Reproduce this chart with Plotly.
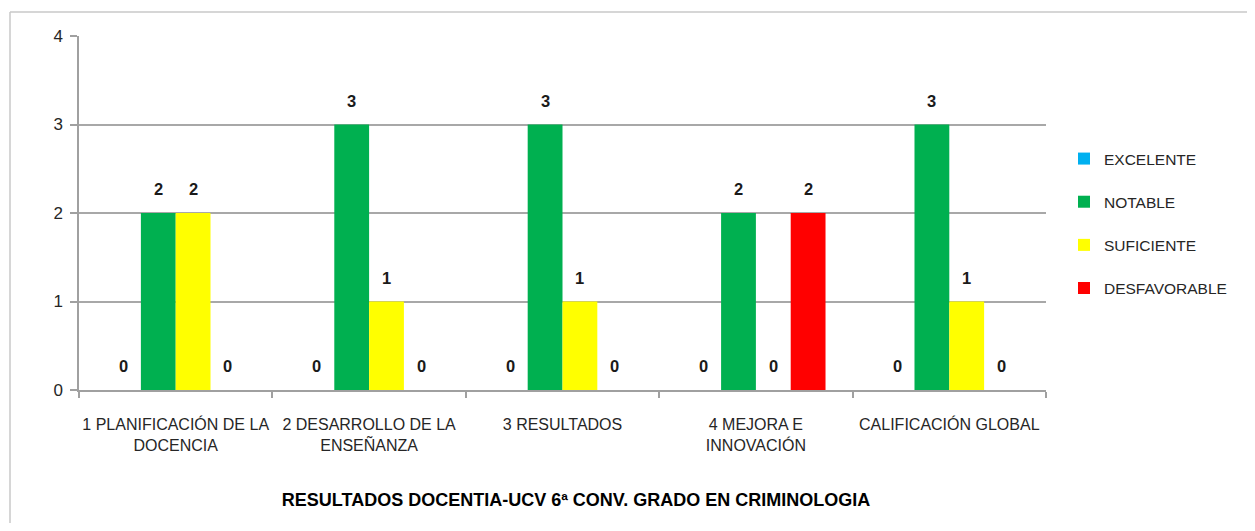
import plotly.graph_objects as go

categories = ["1 PLANIFICACIÓN DE LA<br>DOCENCIA", "2 DESARROLLO DE LA<br>ENSEÑANZA",
              "3 RESULTADOS", "4 MEJORA E<br>INNOVACIÓN", "CALIFICACIÓN GLOBAL"]
series_names = ["EXCELENTE", "NOTABLE", "SUFICIENTE", "DESFAVORABLE"]
excelente = [0, 0, 0, 0, 0]
notable = [2, 3, 3, 2, 3]
suficiente = [2, 1, 1, 0, 1]
desfavorable = [0, 0, 0, 2, 0]
y_ticks = [0, 1, 2, 3, 4]
title_text = "RESULTADOS DOCENTIA-UCV 6ª CONV. GRADO EN CRIMINOLOGIA"

colors = ["#00B0F0", "#00B050", "#FFFF00", "#FF0000"]
values = [excelente, notable, suficiente, desfavorable]

OFF = 8  # default page body margin
W, H = 1255 - 2 * OFF, 531 - 2 * OFF
# plot area in page pixels: x 79..1046, y 36..390
L = 79 - OFF
T = 36 - OFF
R = W - (1046 - OFF)
B = H - (390 - OFF)
plot_w = W - L - R
plot_h = H - T - B
bargap = 0.28
cat_w = plot_w / len(categories)
bar_w = cat_w * (1 - bargap) / len(series_names)

FONT = "Liberation Sans, Arial, sans-serif"
TXT = "#262626"


def px_x(page_px):
    return (page_px - OFF - L) / plot_w


def px_y(page_py):
    return (H - B - (page_py - OFF)) / plot_h


fig = go.Figure()
for name, vals, col in zip(series_names, values, colors):
    fig.add_trace(go.Bar(x=categories, y=vals, name=name, marker_color=col,
                         marker_line_width=0, legendgroup=name))

annotations = []
for i, vals in enumerate(values):
    for c, v in zip(categories, vals):
        annotations.append(dict(x=c, y=v, xref="x", yref="y", text="<b>%d</b>" % v,
                                showarrow=False, xshift=(i - 1.5) * bar_w, yshift=24,
                                font=dict(family=FONT, size=16.5, color="#1a1a1a")))

shapes = [
    dict(type="line", xref="paper", yref="paper", x0=px_x(10), x1=px_x(1255),
         y0=px_y(12), y1=px_y(12), line=dict(color="#c8c8c8", width=1.5)),
    dict(type="line", xref="paper", yref="paper", x0=px_x(10), x1=px_x(10),
         y0=px_y(12), y1=px_y(531), line=dict(color="#c8c8c8", width=1.5)),
]

fig.update_layout(
    width=W, height=H,
    margin=dict(l=L, r=R, t=T, b=B, autoexpand=False),
    paper_bgcolor="white", plot_bgcolor="white",
    barmode="group", bargap=bargap, bargroupgap=0,
    font=dict(family=FONT, size=16, color=TXT),
    title=dict(text="<b>" + title_text + "</b>", xref="paper", x=px_x(576), xanchor="center",
               yref="container", y=1 - (500 - OFF) / H, yanchor="middle",
               font=dict(family=FONT, size=18, color="#000000")),
    legend=dict(x=px_x(1064), y=px_y(142), xanchor="left", yanchor="top",
                font=dict(family=FONT, size=15.5, color=TXT), tracegroupgap=20,
                traceorder="grouped", itemwidth=30, bgcolor="rgba(0,0,0,0)"),
    annotations=annotations,
    shapes=shapes,
    xaxis=dict(showline=True, linecolor="#a0a0a0", linewidth=1.5, ticks="outside",
               tickson="boundaries", ticklen=6, tickcolor="#a0a0a0", tickwidth=1.5,
               showgrid=False, ticklabelstandoff=19, tickangle=0,
               tickfont=dict(family=FONT, size=16, color=TXT)),
    yaxis=dict(range=[0, 4], tickvals=y_ticks, showline=True, linecolor="#a0a0a0", linewidth=1.5,
               ticks="outside", ticklen=7, tickcolor="#a0a0a0", tickwidth=1.5,
               showgrid=True, gridcolor="#a8a8a8", gridwidth=1.5, zeroline=False,
               ticklabelstandoff=4,
               tickfont=dict(family=FONT, size=17, color=TXT)),
)

fig.write_html("out.html")
